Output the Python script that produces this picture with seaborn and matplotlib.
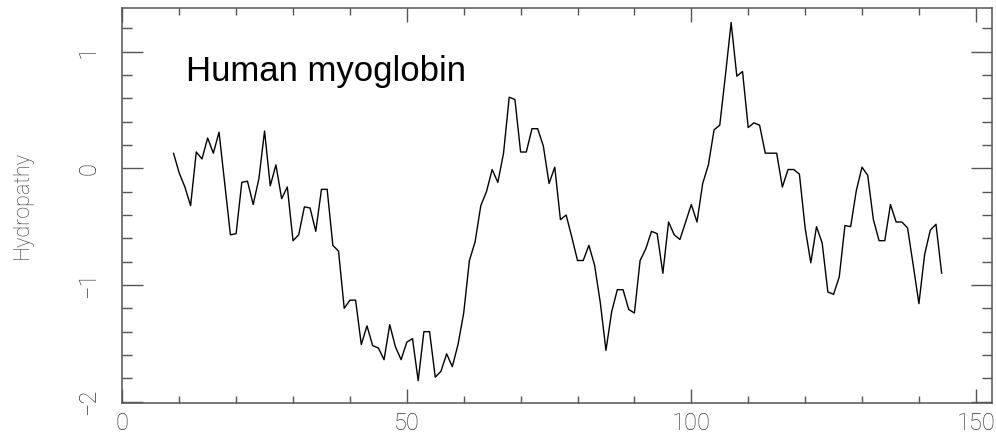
import matplotlib
matplotlib.use("Agg")
import matplotlib.pyplot as plt
from matplotlib.ticker import MultipleLocator
import seaborn as sns
import pandas as pd

# residue window centre positions and hydropathy values
residue = list(range(9, 145))
hydropathy = [
    0.13, -0.04, -0.16, -0.32, 0.14, 0.08, 0.26, 0.13, 0.31, -0.13,
    -0.57, -0.56, -0.12, -0.11, -0.31, -0.09, 0.32, -0.15, 0.03, -0.26,
    -0.16, -0.62, -0.57, -0.33, -0.34, -0.54, -0.18, -0.18, -0.66, -0.71,
    -1.20, -1.13, -1.13, -1.51, -1.35, -1.52, -1.54, -1.64, -1.34, -1.53,
    -1.64, -1.49, -1.46, -1.82, -1.40, -1.40, -1.79, -1.74, -1.59, -1.70,
    -1.51, -1.24, -0.79, -0.63, -0.32, -0.20, -0.01, -0.12, 0.13, 0.61,
    0.59, 0.14, 0.14, 0.34, 0.34, 0.19, -0.13, 0.01, -0.44, -0.40,
    -0.59, -0.79, -0.79, -0.66, -0.83, -1.15, -1.56, -1.23, -1.04, -1.04,
    -1.21, -1.24, -0.79, -0.69, -0.54, -0.56, -0.90, -0.46, -0.57, -0.61,
    -0.46, -0.31, -0.46, -0.13, 0.03, 0.33, 0.37, 0.80, 1.25, 0.79,
    0.83, 0.35, 0.39, 0.37, 0.13, 0.13, 0.13, -0.16, -0.01, -0.01,
    -0.05, -0.51, -0.81, -0.50, -0.64, -1.06, -1.08, -0.93, -0.49, -0.50,
    -0.19, 0.01, -0.06, -0.44, -0.62, -0.62, -0.31, -0.46, -0.46, -0.51,
    -0.83, -1.16, -0.74, -0.53, -0.48, -0.90,
]
x_ticks = [0, 50, 100, 150]
y_ticks = [-2, -1, 0, 1]

df = pd.DataFrame({"Residue": residue, "Hydropathy": hydropathy})

sns.set_style("ticks")
fig = plt.figure(figsize=(9.96, 4.34), dpi=100)
ax = fig.add_axes([0.1228, 0.0721, 0.8735, 0.9088])

sns.lineplot(data=df, x="Residue", y="Hydropathy", color="black", linewidth=1.0, ax=ax)

ax.set_xlim(0, 152.9)
ax.set_ylim(-2.009, 1.372)
ax.set_xticks(x_ticks)
ax.set_yticks(y_ticks)
ax.xaxis.set_minor_locator(MultipleLocator(10))
ax.yaxis.set_minor_locator(MultipleLocator(0.2))

for s in ax.spines.values():
    s.set_color("#555555")
    s.set_linewidth(1.1)

ax.tick_params(axis="both", which="both", direction="in", top=True, right=True,
               color="#555555", width=1.0)
ax.tick_params(axis="x", which="major", length=10, pad=7)
ax.tick_params(axis="x", which="minor", length=5)
ax.tick_params(axis="y", which="major", length=15, pad=16)
ax.tick_params(axis="y", which="minor", length=7)

tick_font = dict(family=["Roboto", "DejaVu Sans"], weight="light", size=17, color="#333333")
ax.set_xticklabels([str(t) for t in x_ticks], **tick_font)
ax.set_yticklabels(["\u2212" + str(-t) if t < 0 else str(t) for t in y_ticks],
                   rotation=90, va="center", **tick_font)

ax.set_xlabel("")
ax.set_ylabel("Hydropathy", family=["Roboto", "DejaVu Sans"], weight="light",
              fontsize=15.5, color="#333333")
ax.yaxis.set_label_coords(-0.1026, 0.5)

ax.text(0.0732, 0.8157, "Human myoglobin", transform=ax.transAxes,
        family="Liberation Sans", fontsize=25, color="black", va="baseline", ha="left")

fig.savefig("out.png", dpi=100)
